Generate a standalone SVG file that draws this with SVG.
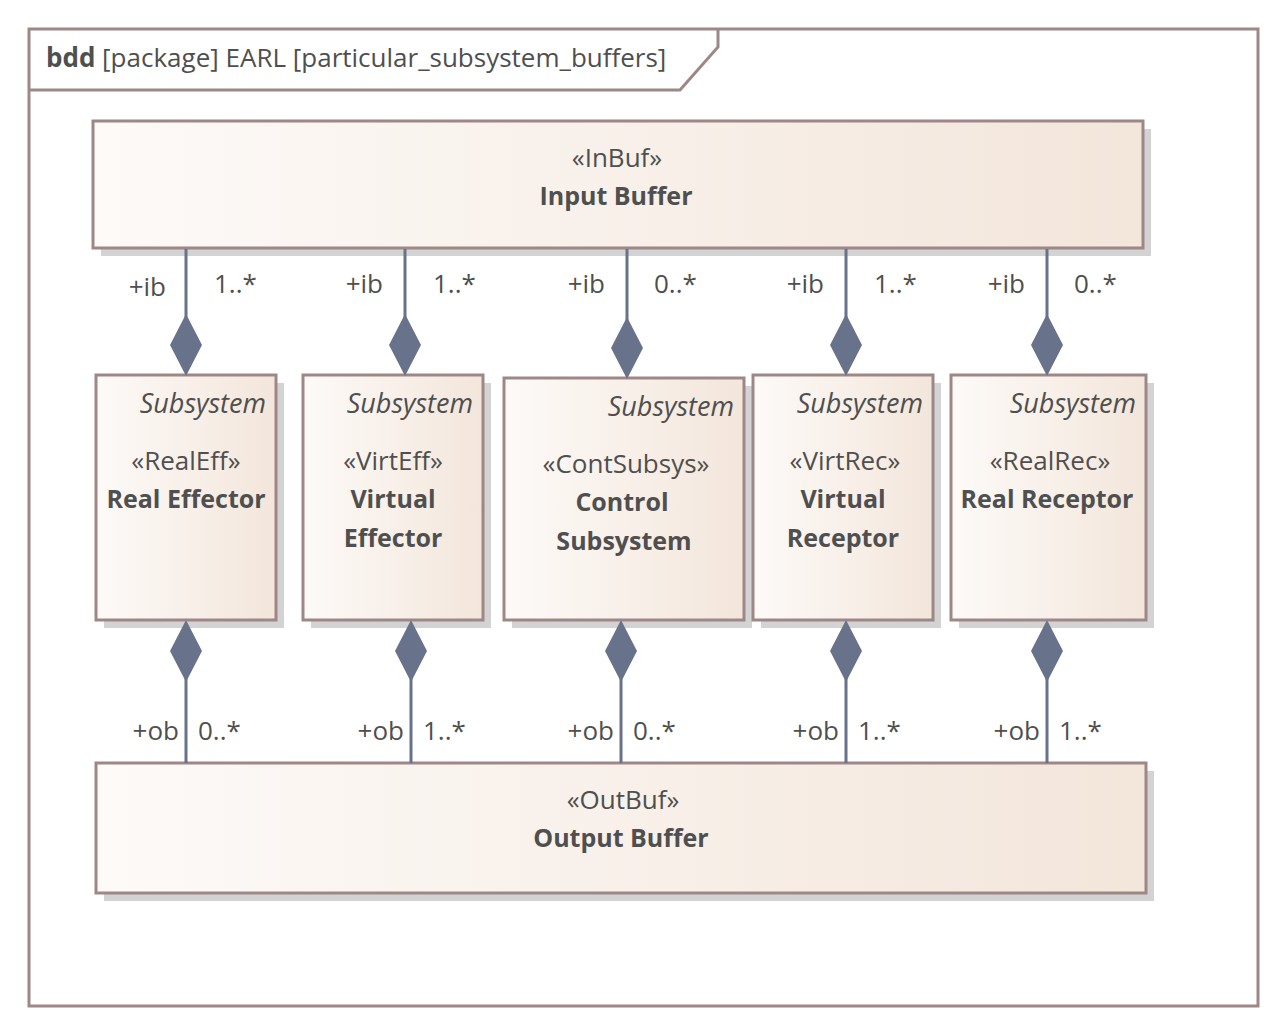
<svg xmlns="http://www.w3.org/2000/svg" width="1287" height="1035" viewBox="0 0 1287 1035">
<defs>
<linearGradient id="g" x1="0" y1="0" x2="1" y2="0">
<stop offset="0" stop-color="#fdfaf8"/>
<stop offset="1" stop-color="#f3e6db"/>
</linearGradient>
<style>
.frame{fill:#fff;stroke:#9e8787;stroke-width:3}
.box{fill:url(#g);stroke:#9e8787;stroke-width:3}
.sh{fill:#d3d3d3}
text{font-family:"Open Sans","Noto Sans","DejaVu Sans",sans-serif;fill:#4f4f4f}
.st{font-size:26px;text-anchor:middle}
.nm{font-size:25px;font-weight:bold;text-anchor:middle}
.it{font-size:27px;font-style:italic;text-anchor:end}
.lb{font-size:26px}
.ln{stroke:#68738b;stroke-width:3;fill:none}
.dm{fill:#68738b}
</style>
</defs>
<rect width="1287" height="1035" fill="#fff"/>
<g id="frame">
<rect class="frame" x="29" y="29" width="1229" height="977"/>
<path d="M29,90 L680,90 L718,47 L718,29" fill="none" stroke="#9e8787" stroke-width="3"/>
<text x="46" y="67" style="font-size:26px"><tspan font-weight="bold">bdd</tspan> [package] EARL [particular_subsystem_buffers]</text>
</g>
<g id="input-buffer">
<rect class="sh" x="101" y="129" width="1050" height="127"/>
<rect class="box" x="93" y="121" width="1050" height="127"/>
<text class="st" x="617" y="167">«InBuf»</text>
<text class="nm" x="616" y="205">Input Buffer</text>
</g>
<g id="real-effector">
<rect class="sh" x="104" y="383" width="180" height="245"/>
<rect class="box" x="96" y="375" width="180" height="245"/>
<text class="it" x="266" y="413">Subsystem</text>
<text class="st" x="186" y="470">«RealEff»</text>
<text class="nm" x="186" y="508">Real Effector</text>
</g>
<g id="virtual-effector">
<rect class="sh" x="311" y="383" width="180" height="245"/>
<rect class="box" x="303" y="375" width="180" height="245"/>
<text class="it" x="473" y="413">Subsystem</text>
<text class="st" x="393" y="470">«VirtEff»</text>
<text class="nm" x="393" y="508">Virtual</text>
<text class="nm" x="393" y="547">Effector</text>
</g>
<g id="control-subsystem">
<rect class="sh" x="512" y="386" width="240" height="242"/>
<rect class="box" x="504" y="378" width="240" height="242"/>
<text class="it" x="734" y="416">Subsystem</text>
<text class="st" x="626" y="473">«ContSubsys»</text>
<text class="nm" x="622" y="511">Control</text>
<text class="nm" x="624" y="550">Subsystem</text>
</g>
<g id="virtual-receptor">
<rect class="sh" x="761" y="383" width="180" height="245"/>
<rect class="box" x="753" y="375" width="180" height="245"/>
<text class="it" x="923" y="413">Subsystem</text>
<text class="st" x="845" y="470">«VirtRec»</text>
<text class="nm" x="843" y="508">Virtual</text>
<text class="nm" x="843" y="547">Receptor</text>
</g>
<g id="real-receptor">
<rect class="sh" x="959" y="383" width="195" height="245"/>
<rect class="box" x="951" y="375" width="195" height="245"/>
<text class="it" x="1136" y="413">Subsystem</text>
<text class="st" x="1050" y="470">«RealRec»</text>
<text class="nm" x="1047" y="508">Real Receptor</text>
</g>
<g id="output-buffer">
<rect class="sh" x="104" y="771" width="1050" height="130"/>
<rect class="box" x="96" y="763" width="1050" height="130"/>
<text class="st" x="623" y="809">«OutBuf»</text>
<text class="nm" x="621" y="847">Output Buffer</text>
</g>
<g id="connectors">
<path class="ln" d="M186,249 V320 M405,249 V320 M627,249 V322 M846,249 V320 M1047,249 V320"/>
<path class="dm" d="M186,314 L202,345 L186,376 L170,345 Z M405,314 L421,345 L405,376 L389,345 Z M627,317 L643,348 L627,379 L611,348 Z M846,314 L862,345 L846,376 L830,345 Z M1047,314 L1063,345 L1047,376 L1031,345 Z"/>
<path class="ln" d="M186,676 V763 M411,676 V763 M621,676 V763 M846,676 V763 M1047,676 V763"/>
<path class="dm" d="M186,620 L202,651 L186,682 L170,651 Z M411,620 L427,651 L411,682 L395,651 Z M621,620 L637,651 L621,682 L605,651 Z M846,620 L862,651 L846,682 L830,651 Z M1047,620 L1063,651 L1047,682 L1031,651 Z"/>
<text class="lb" x="166" y="296" text-anchor="end">+ib</text>
<text class="lb" x="214" y="293">1..*</text>
<text class="lb" x="383" y="293" text-anchor="end">+ib</text>
<text class="lb" x="433" y="293">1..*</text>
<text class="lb" x="605" y="293" text-anchor="end">+ib</text>
<text class="lb" x="654" y="293">0..*</text>
<text class="lb" x="824" y="293" text-anchor="end">+ib</text>
<text class="lb" x="874" y="293">1..*</text>
<text class="lb" x="1025" y="293" text-anchor="end">+ib</text>
<text class="lb" x="1074" y="293">0..*</text>
<text class="lb" x="179" y="740" text-anchor="end">+ob</text>
<text class="lb" x="198" y="740">0..*</text>
<text class="lb" x="404" y="740" text-anchor="end">+ob</text>
<text class="lb" x="423" y="740">1..*</text>
<text class="lb" x="614" y="740" text-anchor="end">+ob</text>
<text class="lb" x="633" y="740">0..*</text>
<text class="lb" x="839" y="740" text-anchor="end">+ob</text>
<text class="lb" x="858" y="740">1..*</text>
<text class="lb" x="1040" y="740" text-anchor="end">+ob</text>
<text class="lb" x="1059" y="740">1..*</text>
</g>
</svg>
